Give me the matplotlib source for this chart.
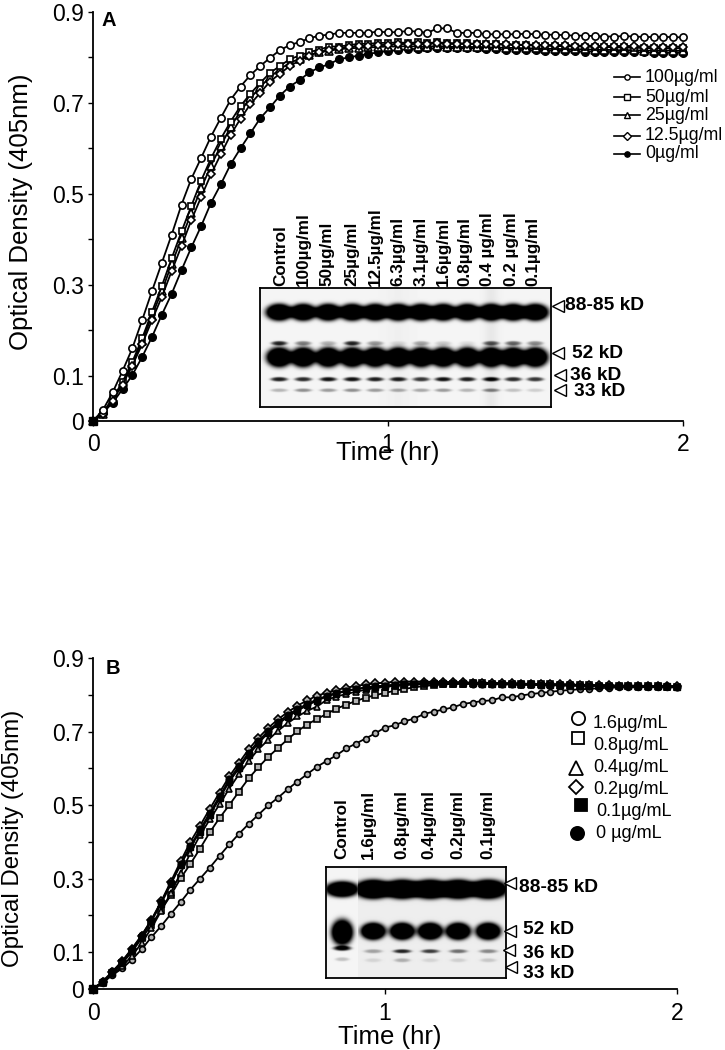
#!/usr/bin/env python3

import numpy as np
import matplotlib
matplotlib.use('Agg')
import matplotlib.pyplot as plt

plt.rcParams['font.family'] = ['Liberation Sans', 'DejaVu Sans']

FIG_W = 725
FIG_H = 1050

# plate reader takes one reading every 2 min
time_hr = np.arange(61) / 30

a_100 = [0, .024, .063, .11, .16, .222, .286, .348, .41, .476,
         .533, .579, .626, .667, .707, .736, .761, .781, .799, .816,
         .827, .834, .842, .848, .85, .854, .854, .854, .854, .857,
         .855, .856, .858, .857, .854, .864, .864, .854, .854, .854,
         .851, .851, .851, .851, .852, .851, .85, .85, .849, .848,
         .848, .847, .846, .846, .847, .846, .845, .845, .845, .845, .844]
a_50 = [0, .018, .05, .086, .13, .182, .24, .297, .358, .417,
        .473, .529, .578, .621, .659, .693, .72, .744, .766, .781,
        .796, .804, .812, .817, .824, .824, .827, .83, .83, .832,
        .832, .833, .832, .833, .832, .833, .832, .831, .831, .83,
        .829, .829, .828, .828, .827, .826, .826, .825, .825, .824,
        .824, .823, .823, .822, .822, .821, .821, .82, .82, .82, .82]
a_25 = [0, .016, .048, .083, .125, .176, .232, .286, .345, .402,
        .458, .512, .562, .606, .647, .682, .71, .735, .757, .774,
        .788, .797, .806, .811, .815, .818, .82, .821, .822, .823,
        .824, .824, .825, .824, .824, .825, .824, .823, .823, .823,
        .822, .822, .821, .821, .82, .82, .819, .819, .818, .818,
        .818, .817, .817, .816, .816, .816, .815, .815, .815, .815, .814]
a_12 = [0, .015, .045, .08, .122, .169, .222, .273, .33, .385,
        .442, .493, .543, .587, .63, .665, .697, .722, .747, .764,
        .781, .793, .804, .812, .817, .82, .823, .825, .826, .827,
        .828, .829, .83, .829, .83, .831, .83, .83, .83, .83,
        .829, .829, .829, .828, .828, .828, .827, .827, .827, .826,
        .826, .826, .825, .825, .825, .825, .824, .824, .824, .824, .824]
a_0 = [0, .018, .04, .07, .101, .141, .185, .234, .28, .332,
       .382, .429, .48, .521, .565, .60, .633, .666, .69, .716,
       .736, .75, .767, .778, .785, .796, .80, .804, .808, .811,
       .814, .816, .818, .819, .82, .82, .821, .82, .82, .82,
       .819, .818, .817, .817, .816, .816, .815, .815, .814, .814,
       .813, .813, .812, .812, .812, .811, .811, .81, .81, .81, .81]

b_16 = [0, .017, .038, .056, .08, .108, .141, .171, .204, .236,
        .270, .300, .330, .362, .393, .422, .449, .474, .499, .520,
        .543, .564, .584, .604, .620, .635, .654, .667, .681, .695,
        .711, .717, .728, .735, .748, .754, .760, .766, .775, .779,
        .783, .785, .793, .793, .798, .802, .805, .808, .811, .813,
        .815, .816, .818, .819, .82, .82, .82, .821, .82, .82, .82]
b_08 = [0, .017, .043, .07, .101, .138, .174, .215, .255, .301,
        .340, .382, .426, .465, .500, .537, .573, .603, .631, .655,
        .679, .701, .719, .734, .748, .762, .773, .783, .792, .799,
        .805, .811, .816, .82, .824, .826, .828, .83, .83, .831,
        .831, .83, .83, .83, .829, .829, .828, .828, .827, .827,
        .826, .826, .825, .825, .824, .824, .823, .823, .823, .822, .822]
b_04 = [0, .018, .04, .062, .09, .125, .165, .212, .262, .315,
        .369, .418, .461, .502, .545, .584, .620, .652, .677, .702,
        .723, .741, .756, .768, .786, .795, .802, .808, .814, .818,
        .822, .824, .826, .828, .829, .83, .83, .83, .83, .83,
        .829, .829, .828, .828, .827, .827, .826, .826, .825, .825,
        .824, .824, .824, .823, .823, .823, .822, .822, .822, .822, .822]
b_02 = [0, .02, .046, .075, .108, .145, .188, .238, .292, .347,
        .40, .444, .49, .534, .578, .615, .652, .683, .71, .733,
        .753, .77, .785, .797, .806, .813, .819, .824, .828, .831,
        .833, .835, .836, .836, .836, .835, .835, .834, .834, .833,
        .833, .832, .832, .831, .83, .83, .829, .829, .828, .828,
        .827, .827, .826, .826, .825, .825, .825, .824, .824, .824, .823]
b_01 = [0, .019, .044, .072, .105, .142, .184, .232, .285, .338,
        .385, .428, .473, .518, .564, .600, .637, .668, .697, .72,
        .74, .757, .771, .784, .795, .803, .81, .815, .819, .822,
        .825, .827, .829, .83, .831, .832, .832, .832, .831, .831,
        .83, .83, .829, .829, .828, .828, .827, .827, .826, .826,
        .825, .825, .825, .824, .824, .824, .823, .823, .823, .823, .822]
b_0 = [0, .021, .048, .076, .11, .146, .188, .236, .288, .34,
       .389, .434, .479, .524, .570, .606, .643, .674, .702, .725,
       .745, .761, .775, .787, .797, .805, .811, .816, .82, .823,
       .825, .827, .829, .83, .831, .831, .831, .831, .831, .83,
       .83, .83, .829, .829, .828, .828, .827, .827, .826, .826,
       .825, .825, .825, .824, .824, .824, .823, .823, .823, .823, .822]

y_ticks = [0, .1, .2, .3, .4, .5, .6, .7, .8, .9]
y_tick_labels = ['0', '0.1', '', '0.3', '', '0.5', '', '0.7', '', '0.9']
x_ticks = [0, 1, 2]
x_tick_labels = ['0', '1', '2']

legend_a = ['100µg/ml', '50µg/ml', '25µg/ml', '12.5µg/ml', '0µg/ml']
legend_b = ['1.6µg/mL', '0.8µg/mL', '0.4µg/mL', '0.2µg/mL', '0.1µg/mL', '0 µg/mL']
gel_labels_a = ['Control', '100µg/ml', '50µg/ml', '25µg/ml', '12.5µg/ml', '6.3µg/ml',
                '3.1µg/ml', '1.6µg/ml', '0.8µg/ml', '0.4 µg/ml', '0.2 µg/ml', '0.1µg/ml']
gel_labels_b = ['Control', '1.6µg/ml', '0.8µg/ml', '0.4µg/ml', '0.2µg/ml', '0.1µg/ml']
kd_labels = ['88-85 kD', '52 kD', '36 kD', '33 kD']

# band darkness per lane
gel_a_faint52 = [.8, .45, .25, .8, .35, .1, .3, .15, .08, .6, .55, .4]
gel_a_36 = [.85, .8, .9, .9, .85, .85, .75, .9, .85, .95, .8, .75]
gel_a_33 = [.25, .4, .35, .4, .35, .3, .3, .35, .25, .45, .2, .15]
gel_b_36 = [.95, .3, .8, .7, .5, .4]
gel_b_33 = [.2, .1, .25, .1, .12, .15]


def to_axes_rect(left, right, top, bottom):
    return [left / FIG_W, 1 - bottom / FIG_H, (right - left) / FIG_W, (bottom - top) / FIG_H]


def style_axes(ax, tick_size, x_pad):
    ax.set_xlim(0, 2)
    ax.set_ylim(0, 0.9)
    ax.spines['top'].set_visible(False)
    ax.spines['right'].set_visible(False)
    ax.spines['left'].set_linewidth(1.3)
    ax.spines['bottom'].set_linewidth(1.3)
    ax.set_xticks(x_ticks)
    ax.set_xticklabels(x_tick_labels)
    ax.set_yticks(y_ticks)
    ax.set_yticklabels(y_tick_labels)
    ax.tick_params(axis='x', length=3.5, width=1.0, labelsize=tick_size, pad=x_pad)
    ax.tick_params(axis='y', length=3.5, width=1.0, labelsize=tick_size, pad=3)
    ax.patch.set_alpha(0)


def band(X, Y, cx, cy, half_w, half_h, amp, power=2.0):
    r2 = ((X - cx) / half_w) ** 2 + ((Y - cy) / half_h) ** 2
    return amp * np.exp(-r2 ** power)


def draw_gel(fig, frame, lanes, rows, smears=()):
    left, right, top, bottom = frame
    ax = fig.add_axes(to_axes_rect(left, right, top, bottom))
    xs = np.arange(left, right, 0.5)
    ys = np.arange(top, bottom, 0.5)
    X, Y = np.meshgrid(xs, ys)
    dark = np.full(X.shape, 0.04)
    for cy, half_w, half_h, amps in rows:
        for cx, amp in zip(lanes, amps):
            dark += band(X, Y, cx, cy, half_w, half_h, amp)
    for cx, half_w, amp in smears:
        dark += amp * np.exp(-((X - cx) / half_w) ** 2)
    ax.imshow(1 - np.clip(dark, 0, 1), cmap='gray', vmin=0, vmax=1, aspect='auto',
              extent=(left, right, bottom, top), interpolation='bilinear')
    ax.set_xticks([])
    ax.set_yticks([])
    for spine in ax.spines.values():
        spine.set_linewidth(1.3)
    return ax


fig = plt.figure(figsize=(FIG_W / 100, FIG_H / 100), dpi=100)

# Panel A
ax_a = fig.add_axes(to_axes_rect(93, 683, 12, 421))
style_axes(ax_a, 16.5, 5)
open_style = dict(color='black', linewidth=1.3, markerfacecolor='white',
                  markeredgecolor='black', markeredgewidth=1.2, clip_on=False)
ax_a.plot(time_hr, a_0, 'o', ls='-', color='black', linewidth=1.3, markersize=5.5, clip_on=False)
ax_a.plot(time_hr, a_25, '^', ls='-', markersize=5.2, **open_style)
ax_a.plot(time_hr, a_50, 's', ls='-', markersize=5.0, **open_style)
ax_a.plot(time_hr, a_12, 'D', ls='-', markersize=4.0, **open_style)
ax_a.plot(time_hr, a_100, 'o', ls='-', markersize=5.2, **open_style)
ax_a.plot(time_hr[0], a_0[0], 's', color='black', markersize=6, clip_on=False)

# Panel B
ax_b = fig.add_axes(to_axes_rect(93, 677, 658, 989))
style_axes(ax_b, 16.5, 6)
small_style = dict(color='black', linewidth=1.3, markerfacecolor='#b4b4b4',
                   markeredgecolor='black', markeredgewidth=1.2, clip_on=False)
ax_b.plot(time_hr, b_16, 'o', ls='-', markersize=4.2, **small_style)
ax_b.plot(time_hr, b_08, 's', ls='-', markersize=4.0, **small_style)
ax_b.plot(time_hr, b_04, '^', ls='-', markersize=4.4, **small_style)
ax_b.plot(time_hr, b_02, 'D', ls='-', markersize=3.8, **small_style)
ax_b.plot(time_hr, b_01, 's', ls='-', color='black', linewidth=1.3, markersize=4.4, clip_on=False)
ax_b.plot(time_hr, b_0, 'o', ls='-', color='black', linewidth=1.3, markersize=4.8, clip_on=False)
ax_b.plot(time_hr[0], b_0[0], 's', color='black', markersize=6, clip_on=False)

# Blots
lanes_a = [279, 303, 328, 352, 375, 398, 421, 443, 467, 491, 513, 535]
draw_gel(fig, (260, 551, 288, 407), lanes_a, [
    (312, 13.5, 8.5, [1.6] * 12),
    (343, 8, 2.2, gel_a_faint52),
    (357, 13, 10, [1.6] * 12),
    (379, 8.5, 2.2, gel_a_36),
    (390, 8.5, 1.8, gel_a_33),
], smears=[(491, 7, .05), (398, 14, .02)])

lanes_b = [342, 373, 402, 430, 458, 488]
draw_gel(fig, (326, 506, 867, 978), lanes_b[:1], [
    (889, 17, 8, [1.6]),
    (932, 11, 13, [1.6]),
    (948, 9, 2.5, gel_b_36[:1]),
    (959, 7, 2, gel_b_33[:1]),
])
ax_gel_b = fig.axes[-1]
xs_b = np.arange(373 - 15, 506, 0.5)
ys_b = np.arange(867, 978, 0.5)
X_b, Y_b = np.meshgrid(xs_b, ys_b)
dark_b = np.full(X_b.shape, 0.07)
for cx, amp36, amp33 in zip(lanes_b[1:], gel_b_36[1:], gel_b_33[1:]):
    dark_b += band(X_b, Y_b, cx, 889, 19, 9.5, 1.8)
    dark_b += band(X_b, Y_b, cx, 931, 12.5, 8.5, 1.7)
    dark_b += band(X_b, Y_b, cx, 951, 9, 2, amp36)
    dark_b += band(X_b, Y_b, cx, 960, 8, 2, amp33)
ax_gel_b.imshow(1 - np.clip(dark_b, 0, 1), cmap='gray', vmin=0, vmax=1, aspect='auto',
                extent=(xs_b[0], xs_b[-1], 978, 867), interpolation='bilinear')
ax_gel_b.set_xlim(326, 506)
ax_gel_b.set_ylim(978, 867)

# Everything placed by hand goes on a pixel overlay
overlay = fig.add_axes([0, 0, 1, 1])
overlay.set_xlim(0, FIG_W)
overlay.set_ylim(FIG_H, 0)
overlay.axis('off')

overlay.text(102, 20, 'A', fontsize=14.5, fontweight='bold', ha='left', va='center')
overlay.text(106, 668, 'B', fontsize=14.5, fontweight='bold', ha='left', va='center')
overlay.text(21, 212, 'Optical Density (405nm)', fontsize=18.5, rotation=90, ha='center', va='center')
overlay.text(13, 838, 'Optical Density (405nm)', fontsize=17.3, rotation=90, ha='center', va='center')
overlay.text(388, 453, 'Time (hr)', fontsize=18.5, ha='center', va='center')
overlay.text(390, 1037, 'Time (hr)', fontsize=18.5, ha='center', va='center')

# Legend A
legend_a_y = [77, 97, 115, 136, 154]
legend_a_marker = ['o', 's', '^', 'D', 'o']
legend_a_fill = ['white', 'white', 'white', 'white', 'black']
for label, y, marker, fill in zip(legend_a, legend_a_y, legend_a_marker, legend_a_fill):
    overlay.plot([614, 640], [y, y], color='black', linewidth=1.2)
    overlay.plot([627], [y], marker=marker, markersize=3.8, markerfacecolor=fill,
                 markeredgecolor='black', markeredgewidth=1.0, linestyle='none')
    overlay.text(645, y, label, fontsize=12.8, ha='left', va='center')

# Legend B
legend_b_marker = ['o', 's', '^', 'D', 's', 'o']
legend_b_fill = ['white', 'white', 'white', 'white', 'black', 'black']
legend_b_mx = [578, 578, 576, 576, 581, 577]
legend_b_my = [718, 738, 768, 787, 805, 833]
legend_b_size = [9.5, 8.2, 9.5, 7.5, 8.8, 9.5]
legend_b_tx = [593, 593, 593, 593, 596, 596]
legend_b_ty = [723, 745, 767, 789, 812, 834]
for i, label in enumerate(legend_b):
    overlay.plot([legend_b_mx[i]], [legend_b_my[i]], marker=legend_b_marker[i],
                 markersize=legend_b_size[i], markerfacecolor=legend_b_fill[i],
                 markeredgecolor='black', markeredgewidth=1.3, linestyle='none')
    overlay.text(legend_b_tx[i], legend_b_ty[i], label, fontsize=13, ha='left', va='center')

# Lane labels
gel_a_label_x = [281, 303, 327, 352, 375, 398, 421, 443, 465, 488, 512, 533]
for x, label in zip(gel_a_label_x, gel_labels_a):
    overlay.text(x, 286, label, fontsize=12.3, fontweight='bold', rotation=90, ha='center', va='bottom')
gel_b_label_x = [342, 368, 402, 429, 458, 488]
for x, label in zip(gel_b_label_x, gel_labels_b):
    overlay.text(x, 859, label, fontsize=12.3, fontweight='bold', rotation=90, ha='center', va='bottom')

# Size markers next to the blots
kd_a_tri = [(558, 306), (558, 353), (560, 375), (560, 390)]
kd_a_text = [(565, 306), (572, 354), (570, 375), (574, 392)]
kd_b_tri = [(510, 883), (510, 931), (509, 950), (511, 967)]
kd_b_text = [(519, 887), (523, 930), (523, 953), (523, 973)]
for tri, txt in [(kd_a_tri, kd_a_text), (kd_b_tri, kd_b_text)]:
    for (tx, ty), (lx, ly), label in zip(tri, txt, kd_labels):
        overlay.plot([tx], [ty], marker='<', markersize=8, markerfacecolor='white',
                     markeredgecolor='black', markeredgewidth=1.0, linestyle='none')
        overlay.text(lx, ly, label, fontsize=13.8, fontweight='bold', ha='left', va='center')

fig.savefig('out.png', dpi=100)
